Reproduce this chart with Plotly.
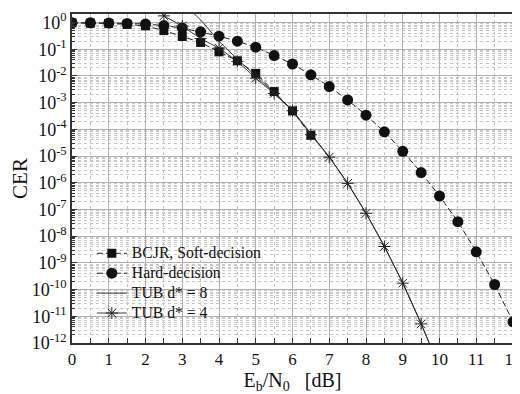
import plotly.graph_objects as go

# ---- data ----
ebn0_soft = [0, 0.5, 1, 1.5, 2, 2.5, 3, 3.5, 4, 4.5, 5, 5.5, 6, 6.5]
cer_soft = [0.97, 0.95, 0.93, 0.85, 0.75, 0.5, 0.3, 0.18, 0.08, 0.037,
            0.0125, 2.6e-3, 4.9e-4, 6.0e-5]

ebn0_hard = [0, 0.5, 1, 1.5, 2, 2.5, 3, 3.5, 4, 4.5, 5, 5.5, 6, 6.5, 7, 7.5,
             8, 8.5, 9, 9.5, 10, 10.5, 11, 11.5, 12]
cer_hard = [0.98, 0.98, 0.96, 0.93, 0.88, 0.77, 0.62, 0.45, 0.31, 0.2, 0.12,
            0.058, 0.028, 0.011, 4.0e-3, 1.26e-3, 3.4e-4, 8.1e-5, 1.5e-5,
            2.4e-6, 3.2e-7, 3.5e-8, 2.6e-9, 1.55e-10, 6.2e-12]

ebn0_tub8 = [3, 3.5, 4, 4.5, 5, 5.5, 6, 6.5, 7, 7.5, 8, 8.5, 9, 9.5, 10]
cer_tub8 = [5.6, 1.26, 0.2, 0.042, 0.01, 2.4e-3, 5.2e-4, 6.6e-5, 9.3e-6,
            9.8e-7, 7.4e-8, 4.2e-9, 1.8e-10, 5.4e-12, 1.2e-13]

ebn0_tub4 = [2.5, 3, 3.5, 4, 4.5, 5, 5.5, 6, 6.5, 7, 7.5, 8, 8.5, 9, 9.5, 10]
cer_tub4 = [1.78, 0.74, 0.25, 0.11, 0.035, 8.3e-3, 2.2e-3, 5.0e-4, 6.3e-5,
            9.1e-6, 9.5e-7, 7.2e-8, 4.1e-9, 1.74e-10, 5.2e-12, 1.2e-13]

series_names = ["BCJR, Soft-decision", "Hard-decision", "TUB d* = 8", "TUB d* = 4"]

y_tickvals = [10.0 ** (-k) for k in range(0, 13)]
y_ticktext = ["10<sup>%s</sup>" % ("0" if k == 0 else "-%d" % k) for k in range(0, 13)]
x_tickvals = list(range(0, 13))

INK = "#222222"
SERIF = "Liberation Serif, Times New Roman, serif"


def big(name):
    return '<span style="font-size:15.7px">%s</span>' % name


fig = go.Figure()
fig.add_trace(go.Scatter(
    x=ebn0_soft, y=cer_soft, name=big(series_names[0]), mode="lines+markers",
    line=dict(color=INK, width=1, dash="6px,3px"),
    marker=dict(symbol="square", size=9, color="#111111")))
fig.add_trace(go.Scatter(
    x=ebn0_hard, y=cer_hard, name=big(series_names[1]), mode="lines+markers",
    line=dict(color=INK, width=1, dash="6px,3px"),
    marker=dict(symbol="circle", size=11, color="#111111")))
fig.add_trace(go.Scatter(
    x=ebn0_tub8, y=cer_tub8, name=big(series_names[2]), mode="lines",
    line=dict(color=INK, width=0.9)))
fig.add_trace(go.Scatter(
    x=ebn0_tub4, y=cer_tub4, name=big(series_names[3]), mode="lines+markers",
    line=dict(color=INK, width=0.9),
    marker=dict(symbol="asterisk-open", size=10, color=INK,
                line=dict(color=INK, width=1))))

fig.update_layout(
    width=512, height=386,
    margin=dict(l=64, r=7, t=6, b=51, autoexpand=False),
    paper_bgcolor="white", plot_bgcolor="white",
    font=dict(family=SERIF, size=16, color="#111111"),
    showlegend=True,
    legend=dict(x=0.045, y=0.318, xanchor="left", yanchor="top",
                bgcolor="rgba(0,0,0,0)", font=dict(family=SERIF, size=13),
                tracegroupgap=0, itemwidth=30),
)
fig.update_xaxes(
    range=[0, 12], tickvals=x_tickvals, automargin=False,
    ticklabeloverflow="allow",
    showline=True, linecolor="#333333", linewidth=1.5, mirror=True,
    ticks="inside", ticklen=5, tickcolor="#333333",
    showgrid=True, gridcolor="#b0b0b0", gridwidth=1,
    minor=dict(dtick=0.5, showgrid=True, gridcolor="#c4c4c4", griddash="dot",
               ticks="inside", ticklen=5, tickcolor="#333333"),
    zeroline=False,
    tickfont=dict(family=SERIF, size=17),
    title=dict(text="E<sub>b</sub>/N<sub>0</sub>   [dB]", font=dict(family=SERIF, size=20),
               standoff=2),
)
fig.update_yaxes(
    type="log", range=[-12, 0.32], tickvals=y_tickvals, ticktext=y_ticktext,
    automargin=False,
    showline=True, linecolor="#333333", linewidth=1.5, mirror=True,
    ticks="inside", ticklen=5, tickcolor="#333333",
    showgrid=True, gridcolor="#b0b0b0", gridwidth=1,
    minor=dict(dtick="D1", showgrid=True, gridcolor="#c8c8c8", griddash="dot",
               ticks="inside", ticklen=3, tickcolor="#333333"),
    zeroline=False,
    tickfont=dict(family=SERIF, size=18),
    title=dict(text="CER", font=dict(family=SERIF, size=21), standoff=2),
)

fig.write_html("out.html")
